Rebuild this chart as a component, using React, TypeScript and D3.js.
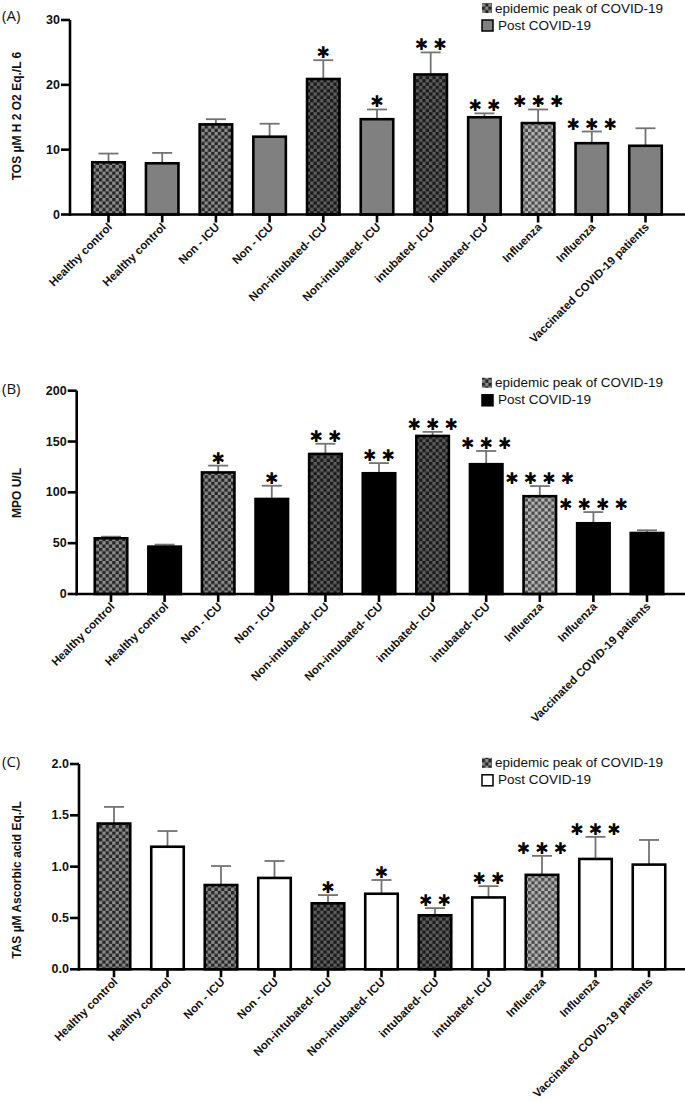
import React from "react";
import * as d3 from "d3";

// ---------- data ----------
const categories = [
  "Healthy control",
  "Healthy control",
  "Non - ICU",
  "Non - ICU",
  "Non-intubated- ICU",
  "Non-intubated- ICU",
  "intubated- ICU",
  "intubated- ICU",
  "Influenza",
  "Influenza",
  "Vaccinated COVID-19 patients",
];
// series membership of every bar
const seriesOf = ["peak", "post", "peak", "post", "peak", "post", "peak", "post", "peak", "post", "post"];
const seriesNames = ["epidemic peak of COVID-19", "Post COVID-19"];

const tosMean = [8.05, 7.9, 13.9, 12.0, 20.9, 14.7, 21.6, 15.0, 14.1, 11.0, 10.6];
const tosErr = [1.35, 1.6, 0.8, 2.0, 2.9, 1.5, 3.4, 0.6, 2.1, 1.8, 2.7];
const tosStars = [0, 0, 0, 0, 1, 1, 2, 2, 3, 3, 0];
const tosTicks = [0, 10, 20, 30];

const mpoMean = [54.8, 46.6, 119.6, 93.5, 137.8, 118.8, 155.5, 127.7, 96.2, 69.6, 60];
const mpoErr = [1.6, 2, 6.7, 13, 10, 10, 4, 13, 10, 11, 2.7];
const mpoStars = [0, 0, 1, 1, 2, 2, 3, 3, 4, 4, 0];
const mpoTicks = [0, 50, 100, 150, 200];

const tasMean = [1.42, 1.194, 0.821, 0.89, 0.643, 0.736, 0.526, 0.7, 0.92, 1.075, 1.02];
const tasErr = [0.162, 0.153, 0.185, 0.165, 0.08, 0.134, 0.07, 0.11, 0.185, 0.215, 0.24];
const tasStars = [0, 0, 0, 0, 1, 1, 2, 2, 3, 3, 0];
const tasTicks = [0, 0.5, 1, 1.5, 2];

// ---------- styles ----------
const FONT = "'Liberation Sans', Arial, sans-serif";
const peakShade = ["mid", "", "mid", "", "dark", "", "dark", "", "light", "", ""];
const shades: Record<string, [string, string]> = {
  mid: ["#262626", "#8c8c8c"],
  dark: ["#1a1a1a", "#5e5e5e"],
  light: ["#4a4a4a", "#b4b4b4"],
};

type PanelCfg = {
  label: string;
  yLabel: string;
  mean: number[];
  err: number[];
  stars: number[];
  ticks: number[];
  fmt: (v: number) => string;
  postFill: string;
  axisX: number;
  yTopPx: number;
  yZeroPx: number;
  xFirst: number;
  xLast: number;
  legendY: number;
  labelY: number;
  yLabelCenter: number;
};

const Panel = ({ c }: { c: PanelCfg }) => {
  const top = c.ticks[c.ticks.length - 1];
  const y = d3.scaleLinear().domain([0, top]).range([c.yZeroPx, c.yTopPx]);
  const x = d3
    .scalePoint<number>()
    .domain(categories.map((_, i) => i))
    .range([c.xFirst, c.xLast]);
  const bw = 32.5;
  const capW = 20;
  return (
    <g>
      <text x={2} y={c.labelY} fontFamily="'Open Sans', sans-serif" fontSize={15} fill="#111">
        {c.label}
      </text>
      {/* y label */}
      <text
        transform={`translate(17,${c.yLabelCenter}) rotate(-90)`}
        textAnchor="middle"
        dominantBaseline="central"
        fontFamily={FONT}
        fontWeight="bold"
        fontSize={12}
        fill="#111"
      >
        {c.yLabel}
      </text>
      {/* error bars */}
      {c.mean.map((m, i) => (
        <g key={"e" + i} stroke="#737373" strokeWidth={1.8}>
          <line x1={x(i)} x2={x(i)} y1={y(m)} y2={y(m + c.err[i])} />
          <line x1={x(i)! - capW / 2} x2={x(i)! + capW / 2} y1={y(m + c.err[i])} y2={y(m + c.err[i])} />
        </g>
      ))}
      {/* bars */}
      {c.mean.map((m, i) => (
        <rect
          key={"b" + i}
          x={x(i)! - bw / 2}
          y={y(m)}
          width={bw}
          height={y(0) - y(m)}
          fill={seriesOf[i] === "peak" ? `url(#chk-${peakShade[i]})` : c.postFill}
          stroke="#000"
          strokeWidth={2.6}
        />
      ))}
      {/* stars */}
      {c.mean.map((m, i) =>
        c.stars[i] > 0 ? (
          <text
            key={"s" + i}
            x={x(i)}
            y={y(m + c.err[i]) - 7.5}
            textAnchor="middle"
            dominantBaseline="central"
            fontFamily="'DejaVu Sans', sans-serif"
            fontSize={16}
            fill="#000"
          >
            {Array(c.stars[i]).fill("\u2731").join(" ")}
          </text>
        ) : null
      )}
      {/* y axis */}
      <line x1={c.axisX} x2={c.axisX} y1={y(0) + 1.3} y2={y(top)} stroke="#000" strokeWidth={2.6} />
      {c.ticks.map((t) => (
        <g key={"t" + t}>
          <line x1={c.axisX - 9} x2={c.axisX} y1={y(t)} y2={y(t)} stroke="#000" strokeWidth={2.6} />
          <text
            x={c.axisX - 10}
            y={y(t)}
            textAnchor="end"
            dominantBaseline="central"
            fontFamily={FONT}
            fontWeight="bold"
            fontSize={12.5}
            fill="#111"
          >
            {c.fmt(t)}
          </text>
        </g>
      ))}
      {/* x axis */}
      <line x1={c.axisX - 1.3} x2={685} y1={y(0)} y2={y(0)} stroke="#000" strokeWidth={2.6} />
      {categories.map((cat, i) => (
        <g key={"x" + i}>
          <line x1={x(i)} x2={x(i)} y1={y(0)} y2={y(0) + 8} stroke="#000" strokeWidth={2.6} />
          <text
            transform={`translate(${x(i)! + 1.5},${y(0) + 10.5}) rotate(-45)`}
            textAnchor="end"
            dominantBaseline="central"
            fontFamily={FONT}
            fontWeight="bold"
            fontSize={11.5}
            fill="#111"
          >
            {cat}
          </text>
        </g>
      ))}
      {/* legend */}
      <g fontFamily={FONT} fontSize={13.5} fill="#111">
        <rect x={482} y={c.legendY - 9.5} width={10} height={10} fill="url(#chk-mid)" />
        <text x={495} y={c.legendY}>
          {seriesNames[0]}
        </text>
        <rect x={482} y={c.legendY + 7.5} width={11} height={11} fill={c.postFill} stroke="#000" strokeWidth={1.5} />
        <text x={498} y={c.legendY + 17}>
          {seriesNames[1]}
        </text>
      </g>
    </g>
  );
};

const panels: PanelCfg[] = [
  {
    label: "(A)",
    yLabel: "TOS \u00b5M H 2 O2 Eq./L 6",
    mean: tosMean,
    err: tosErr,
    stars: tosStars,
    ticks: tosTicks,
    fmt: (v) => d3.format("d")(v),
    postFill: "#808080",
    axisX: 70,
    yTopPx: 20,
    yZeroPx: 214.5,
    xFirst: 108.5,
    xLast: 645.5,
    legendY: 12.5,
    labelY: 21,
    yLabelCenter: 116,
  },
  {
    label: "(B)",
    yLabel: "MPO U/L",
    mean: mpoMean,
    err: mpoErr,
    stars: mpoStars,
    ticks: mpoTicks,
    fmt: (v) => d3.format("d")(v),
    postFill: "#000",
    axisX: 76.7,
    yTopPx: 390.7,
    yZeroPx: 594,
    xFirst: 111,
    xLast: 647,
    legendY: 387.3,
    labelY: 394,
    yLabelCenter: 493,
  },
  {
    label: "(C)",
    yLabel: "TAS \u00b5M Ascorbic acid Eq./L",
    mean: tasMean,
    err: tasErr,
    stars: tasStars,
    ticks: tasTicks,
    fmt: (v) => d3.format(".1f")(v),
    postFill: "#fff",
    axisX: 79,
    yTopPx: 764,
    yZeroPx: 969.3,
    xFirst: 114,
    xLast: 649,
    legendY: 767.3,
    labelY: 767,
    yLabelCenter: 880,
  },
];

export default function App() {
  return (
    <svg
      width={685}
      height={1101}
      style={{ position: "absolute", left: 0, top: 0, background: "#fff" }}
    >
      <defs>
        {Object.entries(shades).map(([k, [a, b]]) => (
          <pattern key={k} id={`chk-${k}`} width={6.6} height={6.6} patternUnits="userSpaceOnUse">
            <rect width={6.6} height={6.6} fill={b} />
            <rect width={3.3} height={3.3} fill={a} />
            <rect x={3.3} y={3.3} width={3.3} height={3.3} fill={a} />
          </pattern>
        ))}
      </defs>
      <rect width={685} height={1101} fill="#fff" />
      {panels.map((p) => (
        <Panel key={p.label} c={p} />
      ))}
    </svg>
  );
}
